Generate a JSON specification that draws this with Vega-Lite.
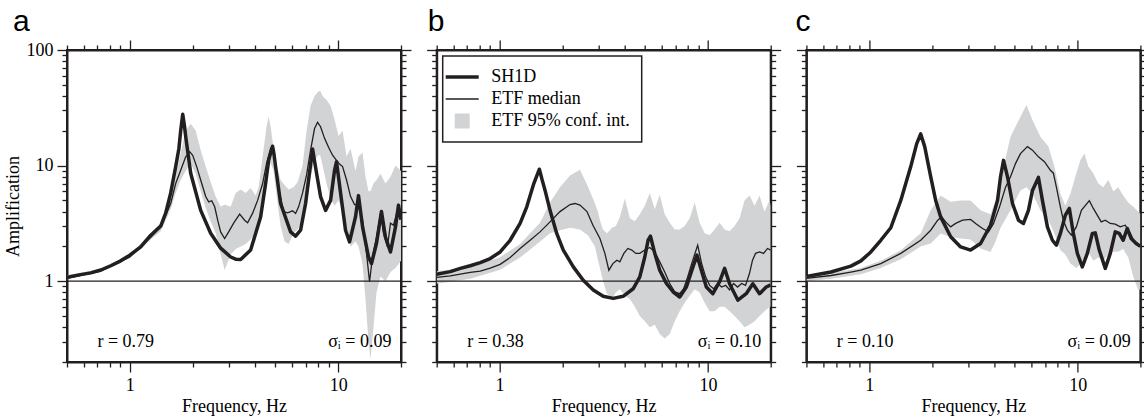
{
"$schema": "https://vega.github.io/schema/vega-lite/v6.json",
"background": "white",
"padding": {"left": 3, "top": 6, "right": 4, "bottom": 5},
"spacing": 35.7,
"bounds": "flush",
"resolve": {"scale": {"color": "independent"}, "legend": {"color": "independent"}},
"config": {
  "view": {"stroke": "#231f20", "strokeWidth": 2},
  "axis": {"domainColor": "#231f20", "domainWidth": 2, "tickColor": "#231f20", "tickWidth": 1.3, "labelFont": "Liberation Serif", "labelFontSize": 18, "labelColor": "black", "titleFont": "Liberation Serif", "titleFontSize": 18, "titleFontWeight": "normal", "titleColor": "black", "grid": false, "labelPadding": 4, "labelOverlap": false, "labelFlush": false},
  "axisX": {"labelPadding": 4},
  "title": {"font": "Liberation Sans", "fontSize": 30, "fontWeight": "normal", "color": "black", "anchor": "start", "frame": "group", "offset": 2},
  "text": {"font": "Liberation Serif", "fontSize": 18, "color": "black"}
},
"datasets": {
"a_sh": [{"f":0.5,"s":1.08},{"f":0.58,"s":1.14},{"f":0.65,"s":1.18},{"f":0.726,"s":1.25},{"f":0.811,"s":1.36},{"f":0.905,"s":1.5},{"f":1.0,"s":1.68},{"f":1.129,"s":1.98},{"f":1.261,"s":2.5},{"f":1.408,"s":3.0},{"f":1.488,"s":3.9},{"f":1.572,"s":5.8},{"f":1.661,"s":9.8},{"f":1.72,"s":14},{"f":1.755,"s":20},{"f":1.795,"s":27.8},{"f":1.83,"s":22},{"f":1.855,"s":17.8},{"f":1.96,"s":8.6},{"f":2.189,"s":4.1},{"f":2.444,"s":2.6},{"f":2.729,"s":1.93},{"f":3.048,"s":1.62},{"f":3.22,"s":1.55},{"f":3.403,"s":1.54},{"f":3.8,"s":1.86},{"f":4.243,"s":3.6},{"f":4.484,"s":7.0},{"f":4.634,"s":11.1},{"f":4.843,"s":14.7},{"f":4.92,"s":12.5},{"f":5.006,"s":9.8},{"f":5.29,"s":4.7},{"f":5.908,"s":2.67},{"f":6.243,"s":2.45},{"f":6.598,"s":2.76},{"f":6.972,"s":4.7},{"f":7.206,"s":7.5},{"f":7.532,"s":13.9},{"f":7.871,"s":8.6},{"f":8.226,"s":5.4},{"f":8.694,"s":4.1},{"f":9.186,"s":5.0},{"f":9.601,"s":9.1},{"f":9.813,"s":10.8},{"f":10.26,"s":5.8},{"f":10.84,"s":2.76},{"f":11.33,"s":2.19},{"f":12.1,"s":3.6},{"f":12.51,"s":5.5},{"f":13.08,"s":2.95},{"f":13.97,"s":1.62},{"f":14.44,"s":1.42},{"f":15.26,"s":2.13},{"f":16.12,"s":4.0},{"f":16.85,"s":2.4},{"f":17.81,"s":1.79},{"f":18.82,"s":2.95},{"f":19.45,"s":4.55},{"f":20,"s":3.4}],
"a_med": [{"f":0.5,"m":1.06},{"f":0.726,"m":1.22},{"f":1.0,"m":1.62},{"f":1.261,"m":2.4},{"f":1.408,"m":2.95},{"f":1.572,"m":4.7},{"f":1.661,"m":7.0},{"f":1.755,"m":9.1},{"f":1.855,"m":11.9},{"f":1.939,"m":13.2},{"f":2.004,"m":12.3},{"f":2.094,"m":9.8},{"f":2.189,"m":7.5},{"f":2.313,"m":5.4},{"f":2.391,"m":4.86},{"f":2.472,"m":4.97},{"f":2.555,"m":4.4},{"f":2.641,"m":3.37},{"f":2.729,"m":2.67},{"f":2.852,"m":2.34},{"f":2.981,"m":2.67},{"f":3.15,"m":3.18},{"f":3.366,"m":3.8},{"f":3.556,"m":3.37},{"f":3.676,"m":3.2},{"f":3.885,"m":3.88},{"f":4.105,"m":5.0},{"f":4.338,"m":7.0},{"f":4.534,"m":10.5},{"f":4.738,"m":14.1},{"f":4.897,"m":13.2},{"f":5.061,"m":8.6},{"f":5.232,"m":5.8},{"f":5.469,"m":4.0},{"f":5.716,"m":3.9},{"f":6.039,"m":4.06},{"f":6.243,"m":3.85},{"f":6.454,"m":4.4},{"f":6.745,"m":5.8},{"f":7.049,"m":8.3},{"f":7.368,"m":13.6},{"f":7.7,"m":21},{"f":7.959,"m":23.7},{"f":8.226,"m":21.7},{"f":8.598,"m":17.2},{"f":8.985,"m":14.4},{"f":9.391,"m":12.3},{"f":9.813,"m":11.1},{"f":10.14,"m":10.3},{"f":10.49,"m":9.8},{"f":10.96,"m":7.5},{"f":11.46,"m":5.4},{"f":11.97,"m":4.6},{"f":12.51,"m":4.6},{"f":13.08,"m":3.37},{"f":13.66,"m":1.75},{"f":14.13,"m":0.99},{"f":14.6,"m":1.62},{"f":15.26,"m":2.4},{"f":15.95,"m":3.87},{"f":16.48,"m":2.6},{"f":17.22,"m":1.98},{"f":17.81,"m":3.18},{"f":18.41,"m":3.05},{"f":19.24,"m":4.1},{"f":20,"m":3.6}],
"a_ci": [{"f":0.5,"lo":1.04,"hi":1.12},{"f":0.726,"lo":1.2,"hi":1.28},{"f":1.0,"lo":1.58,"hi":1.7},{"f":1.261,"lo":2.3,"hi":2.6},{"f":1.408,"lo":2.7,"hi":3.2},{"f":1.572,"lo":4.2,"hi":5.0},{"f":1.661,"lo":5.8,"hi":8},{"f":1.755,"lo":7.5,"hi":13},{"f":1.855,"lo":9,"hi":20},{"f":1.96,"lo":10.5,"hi":23},{"f":2.072,"lo":8.5,"hi":20},{"f":2.189,"lo":6,"hi":13.6},{"f":2.313,"lo":4.3,"hi":9.8},{"f":2.444,"lo":3.3,"hi":7.2},{"f":2.583,"lo":2.6,"hi":5.4},{"f":2.729,"lo":1.7,"hi":4.4},{"f":2.852,"lo":1.25,"hi":4.6},{"f":3.048,"lo":1.7,"hi":4.4},{"f":3.22,"lo":1.9,"hi":5.8},{"f":3.403,"lo":2.0,"hi":6.2},{"f":3.596,"lo":2.1,"hi":5.8},{"f":3.8,"lo":2.3,"hi":6.4},{"f":4.016,"lo":2.6,"hi":5.5},{"f":4.151,"lo":3.0,"hi":6.5},{"f":4.338,"lo":4.5,"hi":12},{"f":4.534,"lo":7.5,"hi":22},{"f":4.634,"lo":9,"hi":26.5},{"f":4.738,"lo":10.5,"hi":22},{"f":4.897,"lo":9,"hi":14},{"f":5.061,"lo":5.5,"hi":10},{"f":5.29,"lo":3.0,"hi":7.5},{"f":5.53,"lo":2.2,"hi":6.8},{"f":5.779,"lo":2.1,"hi":6.2},{"f":6.107,"lo":2.6,"hi":6.5},{"f":6.383,"lo":2.8,"hi":7.2},{"f":6.745,"lo":3.3,"hi":10},{"f":7.049,"lo":4.5,"hi":20},{"f":7.368,"lo":8,"hi":33},{"f":7.7,"lo":11,"hi":40},{"f":8.047,"lo":12.5,"hi":44},{"f":8.226,"lo":12,"hi":44},{"f":8.41,"lo":10,"hi":40},{"f":8.79,"lo":7,"hi":37},{"f":9.186,"lo":5.2,"hi":33},{"f":9.601,"lo":4.5,"hi":25},{"f":10.03,"lo":5,"hi":18},{"f":10.49,"lo":4,"hi":20},{"f":10.96,"lo":3,"hi":12},{"f":11.46,"lo":2.0,"hi":14},{"f":12.1,"lo":2.2,"hi":9},{"f":12.51,"lo":2.0,"hi":12},{"f":13.08,"lo":1.4,"hi":13},{"f":13.51,"lo":0.7,"hi":8},{"f":13.97,"lo":0.3,"hi":6},{"f":14.28,"lo":0.21,"hi":6},{"f":14.76,"lo":0.4,"hi":7},{"f":15.26,"lo":0.8,"hi":7.5},{"f":15.95,"lo":1.1,"hi":8.5},{"f":16.85,"lo":1.0,"hi":7},{"f":17.81,"lo":1.2,"hi":8},{"f":18.82,"lo":1.3,"hi":10},{"f":20,"lo":1.5,"hi":9}],
"b_sh": [{"f":0.5,"s":1.15},{"f":0.581,"s":1.21},{"f":0.649,"s":1.29},{"f":0.724,"s":1.36},{"f":0.809,"s":1.45},{"f":0.903,"s":1.57},{"f":1.008,"s":1.79},{"f":1.125,"s":2.26},{"f":1.256,"s":3.16},{"f":1.352,"s":4.4},{"f":1.454,"s":6.8},{"f":1.554,"s":9.3},{"f":1.6,"s":7.6},{"f":1.655,"s":6.1},{"f":1.748,"s":4.1},{"f":1.882,"s":2.59},{"f":2.024,"s":1.86},{"f":2.261,"s":1.33},{"f":2.523,"s":1.02},{"f":2.818,"s":0.84},{"f":3.145,"s":0.74},{"f":3.512,"s":0.71},{"f":3.92,"s":0.74},{"f":4.377,"s":0.86},{"f":4.712,"s":1.09},{"f":4.978,"s":1.62},{"f":5.163,"s":2.26},{"f":5.302,"s":2.45},{"f":5.559,"s":1.74},{"f":5.872,"s":1.245},{"f":6.323,"s":0.955},{"f":6.8,"s":0.81},{"f":7.321,"s":0.73},{"f":7.881,"s":0.89},{"f":8.475,"s":1.33},{"f":8.86,"s":1.68},{"f":9.299,"s":1.245},{"f":9.824,"s":0.89},{"f":10.56,"s":0.78},{"f":11.38,"s":0.99},{"f":12.02,"s":1.29},{"f":12.7,"s":0.95},{"f":13.92,"s":0.685},{"f":15.26,"s":0.78},{"f":16.42,"s":0.95},{"f":17.68,"s":0.78},{"f":19.03,"s":0.89},{"f":20,"s":0.93}],
"b_med": [{"f":0.5,"m":1.08},{"f":0.581,"m":1.11},{"f":0.649,"m":1.15},{"f":0.724,"m":1.19},{"f":0.809,"m":1.22},{"f":0.903,"m":1.3},{"f":1.008,"m":1.4},{"f":1.125,"m":1.6},{"f":1.256,"m":1.92},{"f":1.403,"m":2.26},{"f":1.566,"m":2.67},{"f":1.748,"m":3.26},{"f":1.951,"m":4.0},{"f":2.18,"m":4.6},{"f":2.303,"m":4.7},{"f":2.433,"m":4.55},{"f":2.628,"m":4.0},{"f":2.808,"m":3.05},{"f":3.033,"m":2.34},{"f":3.204,"m":1.74},{"f":3.348,"m":1.245},{"f":3.5,"m":1.42},{"f":3.657,"m":1.52},{"f":3.78,"m":1.47},{"f":3.951,"m":1.74},{"f":4.128,"m":1.92},{"f":4.315,"m":1.86},{"f":4.509,"m":1.74},{"f":4.712,"m":1.74},{"f":4.978,"m":1.86},{"f":5.261,"m":1.96},{"f":5.559,"m":1.79},{"f":5.872,"m":1.47},{"f":6.205,"m":1.2},{"f":6.558,"m":0.955},{"f":6.929,"m":0.81},{"f":7.321,"m":0.78},{"f":7.65,"m":0.86},{"f":7.995,"m":1.09},{"f":8.356,"m":1.42},{"f":8.929,"m":2.05},{"f":9.33,"m":1.42},{"f":9.75,"m":1.09},{"f":10.19,"m":0.92},{"f":10.65,"m":0.86},{"f":11.13,"m":0.955},{"f":11.63,"m":0.89},{"f":12.16,"m":0.92},{"f":12.7,"m":0.84},{"f":13.27,"m":0.955},{"f":13.87,"m":0.89},{"f":14.5,"m":0.955},{"f":15.15,"m":0.92},{"f":15.83,"m":1.17},{"f":16.36,"m":1.52},{"f":16.92,"m":1.74},{"f":17.68,"m":1.79},{"f":18.48,"m":1.74},{"f":19.31,"m":1.92},{"f":20,"m":1.86}],
"b_ci": [{"f":0.5,"lo":0.95,"hi":1.22},{"f":0.724,"lo":1.05,"hi":1.32},{"f":1.0,"lo":1.25,"hi":1.6},{"f":1.256,"lo":1.6,"hi":2.1},{"f":1.566,"lo":2.2,"hi":3.2},{"f":1.748,"lo":2.6,"hi":4.8},{"f":1.951,"lo":2.76,"hi":6.5},{"f":2.18,"lo":2.9,"hi":8.2},{"f":2.433,"lo":2.8,"hi":9.2},{"f":2.657,"lo":2.5,"hi":6.6},{"f":2.871,"lo":2.0,"hi":4.7},{"f":2.967,"lo":1.52,"hi":4.0},{"f":3.033,"lo":1.3,"hi":3.37},{"f":3.134,"lo":1.02,"hi":2.8},{"f":3.275,"lo":0.78,"hi":2.6},{"f":3.385,"lo":0.75,"hi":2.76},{"f":3.462,"lo":0.7,"hi":2.9},{"f":3.617,"lo":0.8,"hi":3.0},{"f":3.78,"lo":0.85,"hi":3.6},{"f":3.994,"lo":0.75,"hi":5.2},{"f":4.221,"lo":0.7,"hi":3.5},{"f":4.46,"lo":0.6,"hi":3.3},{"f":4.712,"lo":0.5,"hi":3.8},{"f":4.978,"lo":0.45,"hi":4.5},{"f":5.261,"lo":0.4,"hi":5.8},{"f":5.559,"lo":0.42,"hi":4.2},{"f":5.872,"lo":0.35,"hi":5.6},{"f":6.205,"lo":0.32,"hi":3.8},{"f":6.558,"lo":0.35,"hi":3.2},{"f":6.929,"lo":0.45,"hi":2.8},{"f":7.321,"lo":0.55,"hi":2.8},{"f":7.735,"lo":0.65,"hi":3.0},{"f":8.173,"lo":0.75,"hi":3.5},{"f":8.64,"lo":0.85,"hi":4.8},{"f":9.126,"lo":0.8,"hi":3.2},{"f":9.643,"lo":0.65,"hi":2.6},{"f":10.19,"lo":0.55,"hi":2.5},{"f":10.76,"lo":0.55,"hi":2.8},{"f":11.38,"lo":0.6,"hi":3.2},{"f":12.02,"lo":0.6,"hi":2.8},{"f":12.7,"lo":0.55,"hi":2.7},{"f":13.42,"lo":0.5,"hi":3.0},{"f":14.18,"lo":0.45,"hi":3.5},{"f":14.98,"lo":0.4,"hi":5.0},{"f":15.83,"lo":0.42,"hi":5.5},{"f":16.73,"lo":0.45,"hi":4.5},{"f":17.68,"lo":0.5,"hi":5.5},{"f":18.68,"lo":0.55,"hi":4.0},{"f":19.74,"lo":0.6,"hi":5.0},{"f":20,"lo":0.6,"hi":4.5}],
"c_sh": [{"f":0.5,"s":1.1},{"f":0.656,"s":1.2},{"f":0.817,"s":1.35},{"f":0.913,"s":1.5},{"f":1.019,"s":1.79},{"f":1.137,"s":2.26},{"f":1.27,"s":2.9},{"f":1.418,"s":5.0},{"f":1.583,"s":9.8},{"f":1.691,"s":15.5},{"f":1.767,"s":18.8},{"f":1.847,"s":14.6},{"f":1.974,"s":8.0},{"f":2.085,"s":5.0},{"f":2.203,"s":3.6},{"f":2.46,"s":2.42},{"f":2.747,"s":1.98},{"f":3.066,"s":1.86},{"f":3.423,"s":2.12},{"f":3.821,"s":3.05},{"f":4.128,"s":5.0},{"f":4.267,"s":8.0},{"f":4.411,"s":11.1},{"f":4.609,"s":8.0},{"f":4.871,"s":4.7},{"f":5.202,"s":3.37},{"f":5.497,"s":3.16},{"f":5.808,"s":4.1},{"f":6.071,"s":6.1},{"f":6.486,"s":7.9},{"f":6.778,"s":5.0},{"f":7.162,"s":2.95},{"f":7.567,"s":2.26},{"f":7.907,"s":2.05},{"f":8.264,"s":2.59},{"f":8.732,"s":3.73},{"f":9.126,"s":4.26},{"f":9.537,"s":2.59},{"f":9.968,"s":1.74},{"f":10.53,"s":1.33},{"f":11.13,"s":1.74},{"f":11.76,"s":2.59},{"f":12.15,"s":2.62},{"f":12.7,"s":1.86},{"f":13.57,"s":1.29},{"f":14.34,"s":1.74},{"f":15.15,"s":2.67},{"f":15.83,"s":2.59},{"f":16.54,"s":2.26},{"f":17.3,"s":2.86},{"f":18.07,"s":2.34},{"f":19.09,"s":2.12},{"f":20,"s":2.0}],
"c_med": [{"f":0.5,"m":1.06},{"f":0.656,"m":1.12},{"f":0.817,"m":1.2},{"f":0.913,"m":1.245},{"f":1.137,"m":1.42},{"f":1.418,"m":1.74},{"f":1.767,"m":2.26},{"f":1.974,"m":2.76},{"f":2.132,"m":3.37},{"f":2.228,"m":3.6},{"f":2.328,"m":3.26},{"f":2.46,"m":2.95},{"f":2.599,"m":3.16},{"f":2.808,"m":3.37},{"f":3.066,"m":3.42},{"f":3.24,"m":3.16},{"f":3.499,"m":2.86},{"f":3.738,"m":2.67},{"f":3.951,"m":3.16},{"f":4.221,"m":4.4},{"f":4.509,"m":6.5},{"f":4.764,"m":8.0},{"f":5.033,"m":10.4},{"f":5.318,"m":12.7},{"f":5.744,"m":14.6},{"f":6.071,"m":13.6},{"f":6.486,"m":11.9},{"f":6.929,"m":10.8},{"f":7.402,"m":9.1},{"f":7.65,"m":8.6},{"f":7.907,"m":6.5},{"f":8.264,"m":4.4},{"f":8.541,"m":3.37},{"f":8.926,"m":2.76},{"f":9.33,"m":2.5},{"f":9.858,"m":2.95},{"f":10.42,"m":4.1},{"f":11.38,"m":4.97},{"f":11.89,"m":4.26},{"f":12.42,"m":3.73},{"f":12.98,"m":3.26},{"f":13.57,"m":3.37},{"f":14.34,"m":3.16},{"f":15.15,"m":3.12},{"f":16.01,"m":2.95},{"f":16.92,"m":3.05},{"f":17.88,"m":2.59},{"f":18.89,"m":2.12},{"f":20,"m":2.0}],
"c_ci": [{"f":0.5,"lo":1.0,"hi":1.12},{"f":0.656,"lo":1.05,"hi":1.18},{"f":0.913,"lo":1.15,"hi":1.3},{"f":1.137,"lo":1.3,"hi":1.5},{"f":1.418,"lo":1.55,"hi":1.85},{"f":1.767,"lo":2.0,"hi":2.6},{"f":1.974,"lo":2.12,"hi":4.1},{"f":2.203,"lo":2.59,"hi":5.5},{"f":2.46,"lo":2.4,"hi":4.86},{"f":2.747,"lo":2.34,"hi":5.0},{"f":3.066,"lo":2.3,"hi":5.0},{"f":3.423,"lo":1.92,"hi":4.1},{"f":3.821,"lo":1.79,"hi":3.8},{"f":4.039,"lo":2.2,"hi":5.0},{"f":4.267,"lo":2.9,"hi":7.5},{"f":4.764,"lo":4.1,"hi":17.8},{"f":5.318,"lo":6.1,"hi":26.5},{"f":5.681,"lo":6.5,"hi":33.5},{"f":6.071,"lo":5.7,"hi":24.8},{"f":6.63,"lo":4.1,"hi":17.8},{"f":7.241,"lo":3.37,"hi":14.6},{"f":7.735,"lo":2.6,"hi":9.8},{"f":8.264,"lo":1.86,"hi":5.7},{"f":8.732,"lo":1.7,"hi":4.5},{"f":9.227,"lo":1.42,"hi":5.7},{"f":9.858,"lo":1.3,"hi":8.6},{"f":10.3,"lo":1.4,"hi":11.1},{"f":10.77,"lo":1.6,"hi":12.7},{"f":11.25,"lo":1.8,"hi":9.8},{"f":11.89,"lo":1.5,"hi":8.6},{"f":12.56,"lo":1.6,"hi":7.0},{"f":13.27,"lo":1.5,"hi":6.5},{"f":14.03,"lo":1.7,"hi":7.5},{"f":14.82,"lo":1.8,"hi":6.0},{"f":15.66,"lo":1.8,"hi":6.5},{"f":16.54,"lo":1.9,"hi":5.5},{"f":17.49,"lo":1.6,"hi":4.8},{"f":18.48,"lo":1.09,"hi":4.4},{"f":19.52,"lo":0.84,"hi":4.0},{"f":20,"lo":0.85,"hi":3.8}]
},
"hconcat": [
{
  "width": 334, "height": 312,
  "title": {"text": "a", "dx": -54},
  "resolve": {"axis": {"x": "independent", "y": "independent"}},
  "layer": [
    {"data": {"name": "a_ci"}, "mark": {"type": "area", "color": "#d1d3d4", "clip": true},
     "encoding": {
       "x": {"field": "f", "type": "quantitative", "scale": {"type": "log", "domain": [0.5, 20], "nice": false},
             "axis": {"orient": "bottom", "title": "Frequency, Hz", "titlePadding": 3, "values": [0.5,0.6,0.7,0.8,0.9,1,2,3,4,5,6,7,8,9,10,20], "labelExpr": "datum.value == 1 ? '1' : datum.value == 10 ? '10' : ''", "tickSize": {"condition": {"test": "datum.value == 1 || datum.value == 10", "value": 10}, "value": 5}}},
       "y": {"field": "lo", "type": "quantitative", "scale": {"type": "log", "domain": [0.2, 100], "nice": false},
             "axis": {"orient": "left", "title": "Amplification", "titlePadding": 4, "values": [0.2,0.3,0.4,0.5,0.6,0.7,0.8,0.9,1,2,3,4,5,6,7,8,9,10,20,30,40,50,60,70,80,90,100], "labelExpr": "datum.value == 1 ? '1' : datum.value == 10 ? '10' : datum.value == 100 ? '100' : ''", "tickSize": {"condition": {"test": "datum.value == 1 || datum.value == 10 || datum.value == 100", "value": 10}, "value": 5}}},
       "y2": {"field": "hi"}
     }},
    {"data": {"values": [{}]}, "mark": {"type": "rule", "color": "#231f20", "strokeWidth": 1.3},
     "encoding": {"y": {"datum": 1, "type": "quantitative", "scale": {"type": "log", "domain": [0.2, 100], "nice": false}, "axis": null}}},
    {"data": {"name": "a_med"}, "mark": {"type": "line", "color": "#231f20", "strokeWidth": 1.3, "clip": true},
     "encoding": {
       "x": {"field": "f", "type": "quantitative", "scale": {"type": "log", "domain": [0.5, 20], "nice": false}, "axis": null},
       "y": {"field": "m", "type": "quantitative", "scale": {"type": "log", "domain": [0.2, 100], "nice": false}, "axis": null}
     }},
    {"data": {"name": "a_sh"}, "mark": {"type": "line", "color": "#231f20", "strokeWidth": 3.5, "strokeJoin": "round", "clip": true},
     "encoding": {
       "x": {"field": "f", "type": "quantitative", "scale": {"type": "log", "domain": [0.5, 20], "nice": false}, "axis": null},
       "y": {"field": "s", "type": "quantitative", "scale": {"type": "log", "domain": [0.2, 100], "nice": false}, "axis": null}
     }},
    {"data": {"values": [{}]}, "mark": {"type": "text", "text": "r = 0.79", "align": "left", "baseline": "middle"},
     "encoding": {
       "x": {"datum": 0.7, "type": "quantitative", "scale": {"type": "log", "domain": [0.5, 20], "nice": false},
             "axis": {"orient": "top", "title": null, "labels": false, "values": [0.5,0.6,0.7,0.8,0.9,1,2,3,4,5,6,7,8,9,10,20], "tickSize": {"condition": {"test": "datum.value == 1 || datum.value == 10", "value": 10}, "value": 5}}},
       "y": {"datum": 0.3, "type": "quantitative", "scale": {"type": "log", "domain": [0.2, 100], "nice": false},
             "axis": {"orient": "right", "title": null, "labels": false, "values": [0.2,0.3,0.4,0.5,0.6,0.7,0.8,0.9,1,2,3,4,5,6,7,8,9,10,20,30,40,50,60,70,80,90,100], "tickSize": {"condition": {"test": "datum.value == 1 || datum.value == 10 || datum.value == 100", "value": 10}, "value": 5}}}
     }},
    {"data": {"values": [{}]}, "mark": {"type": "text", "text": "σᵢ = 0.09", "align": "right", "baseline": "middle"},
     "encoding": {
       "x": {"datum": 18, "type": "quantitative", "scale": {"type": "log", "domain": [0.5, 20], "nice": false}, "axis": null},
       "y": {"datum": 0.3, "type": "quantitative", "scale": {"type": "log", "domain": [0.2, 100], "nice": false}, "axis": null}
     }}
  ]
},
{
  "width": 334, "height": 312,
  "title": {"text": "b", "dx": -9},
  "resolve": {"axis": {"x": "independent", "y": "independent"}},
  "layer": [
    {"data": {"name": "b_ci"}, "mark": {"type": "area", "clip": true},
     "encoding": {
       "x": {"field": "f", "type": "quantitative", "scale": {"type": "log", "domain": [0.5, 20], "nice": false},
             "axis": {"orient": "bottom", "title": "Frequency, Hz", "titlePadding": 3, "values": [0.5,0.6,0.7,0.8,0.9,1,2,3,4,5,6,7,8,9,10,20], "labelExpr": "datum.value == 1 ? '1' : datum.value == 10 ? '10' : ''", "tickSize": {"condition": {"test": "datum.value == 1 || datum.value == 10", "value": 10}, "value": 5}}},
       "y": {"field": "lo", "type": "quantitative", "scale": {"type": "log", "domain": [0.2, 100], "nice": false},
             "axis": {"orient": "left", "title": null, "labels": false, "values": [0.2,0.3,0.4,0.5,0.6,0.7,0.8,0.9,1,2,3,4,5,6,7,8,9,10,20,30,40,50,60,70,80,90,100], "tickSize": {"condition": {"test": "datum.value == 1 || datum.value == 10 || datum.value == 100", "value": 10}, "value": 5}}},
       "y2": {"field": "hi"},
       "color": {"datum": "ETF 95% conf. int.",
         "scale": {"domain": ["SH1D", "ETF median", "ETF 95% conf. int."], "range": ["#231f20", "#231f20", "#d1d3d4"]},
         "legend": {"orient": "top-left", "offset": 6, "title": null, "padding": 12, "strokeColor": "#231f20", "fillColor": "white",
           "symbolSize": 441, "symbolOffset": -1.5, "labelOffset": 20, "rowPadding": 4,
           "labelFont": "Liberation Serif", "labelFontSize": 18, "labelColor": "black", "labelLimit": 300,
           "encode": {
             "symbols": {"update": {
               "shape": {"signal": "datum.value === 'ETF 95% conf. int.' ? 'square' : 'stroke'"},
               "size": {"signal": "datum.value === 'ETF 95% conf. int.' ? 225 : 1089"},
               "strokeWidth": {"signal": "datum.value === 'SH1D' ? 3.5 : (datum.value === 'ETF median' ? 1.3 : 0)"},
               "stroke": {"signal": "datum.value === 'ETF 95% conf. int.' ? 'transparent' : '#231f20'"},
               "fill": {"signal": "datum.value === 'ETF 95% conf. int.' ? '#d1d3d4' : 'transparent'"},
               "opacity": {"value": 1}, "fillOpacity": {"value": 1}, "strokeOpacity": {"value": 1}
             }},
             "legend": {"update": {"strokeWidth": {"value": 1.5}}}
           }}}
     }},
    {"data": {"values": [{}]}, "mark": {"type": "rule", "color": "#231f20", "strokeWidth": 1.3},
     "encoding": {"y": {"datum": 1, "type": "quantitative", "scale": {"type": "log", "domain": [0.2, 100], "nice": false}, "axis": null}}},
    {"data": {"name": "b_med"}, "mark": {"type": "line", "strokeWidth": 1.3, "clip": true},
     "encoding": {
       "x": {"field": "f", "type": "quantitative", "scale": {"type": "log", "domain": [0.5, 20], "nice": false}, "axis": null},
       "y": {"field": "m", "type": "quantitative", "scale": {"type": "log", "domain": [0.2, 100], "nice": false}, "axis": null},
       "color": {"datum": "ETF median"}
     }},
    {"data": {"name": "b_sh"}, "mark": {"type": "line", "strokeWidth": 3.5, "strokeJoin": "round", "clip": true},
     "encoding": {
       "x": {"field": "f", "type": "quantitative", "scale": {"type": "log", "domain": [0.5, 20], "nice": false}, "axis": null},
       "y": {"field": "s", "type": "quantitative", "scale": {"type": "log", "domain": [0.2, 100], "nice": false}, "axis": null},
       "color": {"datum": "SH1D"}
     }},
    {"data": {"values": [{}]}, "mark": {"type": "text", "text": "r = 0.38", "align": "left", "baseline": "middle"},
     "encoding": {
       "x": {"datum": 0.7, "type": "quantitative", "scale": {"type": "log", "domain": [0.5, 20], "nice": false},
             "axis": {"orient": "top", "title": null, "labels": false, "values": [0.5,0.6,0.7,0.8,0.9,1,2,3,4,5,6,7,8,9,10,20], "tickSize": {"condition": {"test": "datum.value == 1 || datum.value == 10", "value": 10}, "value": 5}}},
       "y": {"datum": 0.3, "type": "quantitative", "scale": {"type": "log", "domain": [0.2, 100], "nice": false},
             "axis": {"orient": "right", "title": null, "labels": false, "values": [0.2,0.3,0.4,0.5,0.6,0.7,0.8,0.9,1,2,3,4,5,6,7,8,9,10,20,30,40,50,60,70,80,90,100], "tickSize": {"condition": {"test": "datum.value == 1 || datum.value == 10 || datum.value == 100", "value": 10}, "value": 5}}}
     }},
    {"data": {"values": [{}]}, "mark": {"type": "text", "text": "σᵢ = 0.10", "align": "right", "baseline": "middle"},
     "encoding": {
       "x": {"datum": 18, "type": "quantitative", "scale": {"type": "log", "domain": [0.5, 20], "nice": false}, "axis": null},
       "y": {"datum": 0.3, "type": "quantitative", "scale": {"type": "log", "domain": [0.2, 100], "nice": false}, "axis": null}
     }}
  ]
},
{
  "width": 334, "height": 312,
  "title": {"text": "c", "dx": -11},
  "resolve": {"axis": {"x": "independent", "y": "independent"}},
  "layer": [
    {"data": {"name": "c_ci"}, "mark": {"type": "area", "color": "#d1d3d4", "clip": true},
     "encoding": {
       "x": {"field": "f", "type": "quantitative", "scale": {"type": "log", "domain": [0.5, 20], "nice": false},
             "axis": {"orient": "bottom", "title": "Frequency, Hz", "titlePadding": 3, "values": [0.5,0.6,0.7,0.8,0.9,1,2,3,4,5,6,7,8,9,10,20], "labelExpr": "datum.value == 1 ? '1' : datum.value == 10 ? '10' : ''", "tickSize": {"condition": {"test": "datum.value == 1 || datum.value == 10", "value": 10}, "value": 5}}},
       "y": {"field": "lo", "type": "quantitative", "scale": {"type": "log", "domain": [0.2, 100], "nice": false},
             "axis": {"orient": "left", "title": null, "labels": false, "values": [0.2,0.3,0.4,0.5,0.6,0.7,0.8,0.9,1,2,3,4,5,6,7,8,9,10,20,30,40,50,60,70,80,90,100], "tickSize": {"condition": {"test": "datum.value == 1 || datum.value == 10 || datum.value == 100", "value": 10}, "value": 5}}},
       "y2": {"field": "hi"}
     }},
    {"data": {"values": [{}]}, "mark": {"type": "rule", "color": "#231f20", "strokeWidth": 1.3},
     "encoding": {"y": {"datum": 1, "type": "quantitative", "scale": {"type": "log", "domain": [0.2, 100], "nice": false}, "axis": null}}},
    {"data": {"name": "c_med"}, "mark": {"type": "line", "color": "#231f20", "strokeWidth": 1.3, "clip": true},
     "encoding": {
       "x": {"field": "f", "type": "quantitative", "scale": {"type": "log", "domain": [0.5, 20], "nice": false}, "axis": null},
       "y": {"field": "m", "type": "quantitative", "scale": {"type": "log", "domain": [0.2, 100], "nice": false}, "axis": null}
     }},
    {"data": {"name": "c_sh"}, "mark": {"type": "line", "color": "#231f20", "strokeWidth": 3.5, "strokeJoin": "round", "clip": true},
     "encoding": {
       "x": {"field": "f", "type": "quantitative", "scale": {"type": "log", "domain": [0.5, 20], "nice": false}, "axis": null},
       "y": {"field": "s", "type": "quantitative", "scale": {"type": "log", "domain": [0.2, 100], "nice": false}, "axis": null}
     }},
    {"data": {"values": [{}]}, "mark": {"type": "text", "text": "r = 0.10", "align": "left", "baseline": "middle"},
     "encoding": {
       "x": {"datum": 0.7, "type": "quantitative", "scale": {"type": "log", "domain": [0.5, 20], "nice": false},
             "axis": {"orient": "top", "title": null, "labels": false, "values": [0.5,0.6,0.7,0.8,0.9,1,2,3,4,5,6,7,8,9,10,20], "tickSize": {"condition": {"test": "datum.value == 1 || datum.value == 10", "value": 10}, "value": 5}}},
       "y": {"datum": 0.3, "type": "quantitative", "scale": {"type": "log", "domain": [0.2, 100], "nice": false},
             "axis": {"orient": "right", "title": null, "labels": false, "values": [0.2,0.3,0.4,0.5,0.6,0.7,0.8,0.9,1,2,3,4,5,6,7,8,9,10,20,30,40,50,60,70,80,90,100], "tickSize": {"condition": {"test": "datum.value == 1 || datum.value == 10 || datum.value == 100", "value": 10}, "value": 5}}}
     }},
    {"data": {"values": [{}]}, "mark": {"type": "text", "text": "σᵢ = 0.09", "align": "right", "baseline": "middle"},
     "encoding": {
       "x": {"datum": 18, "type": "quantitative", "scale": {"type": "log", "domain": [0.5, 20], "nice": false}, "axis": null},
       "y": {"datum": 0.3, "type": "quantitative", "scale": {"type": "log", "domain": [0.2, 100], "nice": false}, "axis": null}
     }}
  ]
}
]
}
